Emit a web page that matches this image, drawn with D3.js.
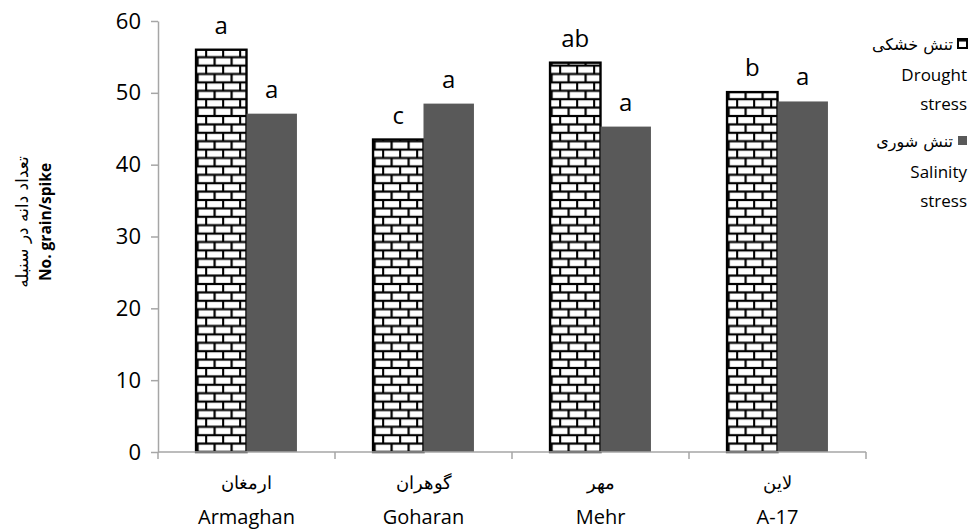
<!DOCTYPE html>
<html>
<head>
<meta charset="utf-8">
<script src="https://cdn.jsdelivr.net/npm/d3@7"></script>
<style>
  html, body { margin: 0; padding: 0; background: #fff; }
  svg { display: block; }
</style>
</head>
<body>
<svg id="chart" width="970" height="529"></svg>
<script>
// Grain number per spike for four wheat cultivars under two stresses
const categoriesEn = ["Armaghan", "Goharan", "Mehr", "A-17"];
const categoriesFa = ["ارمغان", "گوهران", "مهر", "لاین"];
const seriesKeys = ["drought", "salinity"];
const droughtValues = [56.0, 43.5, 54.2, 50.1];
const salinityValues = [47.1, 48.5, 45.3, 48.8];
const droughtLetters = ["a", "c", "ab", "b"];
const salinityLetters = ["a", "a", "a", "a"];
const yTicks = [0, 10, 20, 30, 40, 50, 60];
const legendFa = ["تنش خشکی", "تنش شوری"];
const legendEn = [["Drought", "stress"], ["Salinity", "stress"]];
const yTitleFa = "تعداد دانه در سنبله";
const yTitleEn = "No. grain/spike";

const svg = d3.select("#chart");
const latin = "'Open Sans', sans-serif";
const arabic = "'DejaVu Sans', sans-serif";
const axisColor = "#a6a6a6";
const grey = "#595959";

const plot = { left: 158, right: 866, top: 21, bottom: 452 };

const y = d3.scaleLinear().domain([0, 60]).range([plot.bottom, plot.top]);
const x0 = d3.scaleBand().domain(categoriesEn)
  .range([plot.left, plot.right]).paddingInner(0.43).paddingOuter(0.215);
const x1 = d3.scaleBand().domain(seriesKeys).range([0, x0.bandwidth()]);

// brick hatch used for the drought bars
const defs = svg.append("defs");
const tw = 17, th = 16.8;
const pat = defs.append("pattern").attr("id", "brick")
  .attr("patternUnits", "userSpaceOnUse")
  .attr("width", tw).attr("height", th)
  .attr("x", x0(categoriesEn[0])).attr("y", plot.bottom);
pat.append("rect").attr("width", tw).attr("height", th).attr("fill", "#fff");
const pg = pat.append("g").attr("stroke", "#000").attr("stroke-width", 2.2);
pg.append("line").attr("x1", 0).attr("x2", tw).attr("y1", 0).attr("y2", 0);
pg.append("line").attr("x1", 0).attr("x2", tw).attr("y1", th / 2).attr("y2", th / 2);
pg.append("line").attr("x1", 0).attr("x2", tw).attr("y1", th).attr("y2", th);
pg.append("line").attr("x1", 1).attr("x2", 1).attr("y1", 0).attr("y2", th / 2);
pg.append("line").attr("x1", tw / 2 + 1).attr("x2", tw / 2 + 1).attr("y1", th / 2).attr("y2", th);

const rows = categoriesEn.map((c, i) => ({
  cat: c,
  values: [
    { key: "drought", value: droughtValues[i], letter: droughtLetters[i] },
    { key: "salinity", value: salinityValues[i], letter: salinityLetters[i] }
  ]
}));

// axes
const yAxis = d3.axisLeft(y).tickValues(yTicks).tickSize(7).tickPadding(10).tickSizeOuter(0);
const gy = svg.append("g").attr("transform", `translate(${plot.left},0)`).call(yAxis);
gy.select(".domain").attr("stroke", axisColor).attr("stroke-width", 1.5);
gy.selectAll(".tick line").attr("stroke", axisColor).attr("stroke-width", 1.5);
gy.selectAll(".tick text").attr("font-family", latin).attr("font-size", 22).attr("fill", "#000");

// bars
const groups = svg.append("g").selectAll("g").data(rows).join("g")
  .attr("transform", d => `translate(${x0(d.cat)},0)`);

groups.selectAll("rect").data(d => d.values).join("rect")
  .attr("x", d => x1(d.key))
  .attr("y", d => y(d.value))
  .attr("width", x1.bandwidth())
  .attr("height", d => y(0) - y(d.value))
  .attr("fill", d => d.key === "drought" ? "url(#brick)" : grey)
  .attr("stroke", d => d.key === "drought" ? "#000" : "none")
  .attr("stroke-width", 2.4);

groups.selectAll("text.sig").data(d => d.values).join("text")
  .attr("class", "sig")
  .attr("x", d => x1(d.key) + x1.bandwidth() / 2)
  .attr("y", d => y(d.value) - 16)
  .attr("text-anchor", "middle")
  .attr("font-family", latin).attr("font-size", 24).attr("fill", "#000")
  .text(d => d.letter);

// x axis with boundary ticks
const gx = svg.append("g");
gx.append("line").attr("x1", plot.left).attr("x2", plot.right)
  .attr("y1", plot.bottom).attr("y2", plot.bottom)
  .attr("stroke", axisColor).attr("stroke-width", 1.5);
const bounds = categoriesEn.map(c => x0(c) - x0.step() * 0.43 / 2).concat([plot.right]);
bounds[0] = plot.left;
gx.selectAll("line.tk").data(bounds).join("line").attr("class", "tk")
  .attr("x1", d => d).attr("x2", d => d)
  .attr("y1", plot.bottom).attr("y2", plot.bottom + 7)
  .attr("stroke", axisColor).attr("stroke-width", 1.5);

categoriesEn.forEach((c, i) => {
  const cx = x0(c) + x0.bandwidth() / 2;
  gx.append("text").attr("x", cx).attr("y", 489)
    .attr("text-anchor", "middle").attr("font-family", arabic).attr("font-size", 18)
    .attr("font-weight", 300).attr("fill", "#000").text(categoriesFa[i]);
  gx.append("text").attr("x", cx).attr("y", 524)
    .attr("text-anchor", "middle").attr("font-family", latin).attr("font-size", 20)
    .attr("fill", "#000").text(c);
});

// y title (two lines)
const ty = svg.append("g").attr("transform", "translate(0,222)");
ty.append("text").attr("transform", "translate(28,0) rotate(-90)")
  .attr("text-anchor", "middle").attr("font-family", arabic).attr("font-size", 17)
  .attr("fill", "#000").text(yTitleFa);
ty.append("text").attr("transform", "translate(51,0) rotate(-90)")
  .attr("text-anchor", "middle").attr("font-family", latin).attr("font-size", 15.5)
  .attr("font-weight", "bold").attr("fill", "#000").text(yTitleEn);

// legend
const lg = svg.append("g");
const legendTop = [50, 147];
seriesKeys.forEach((k, i) => {
  const base = legendTop[i];
  lg.append("rect").attr("x", 958).attr("y", base - 11).attr("width", 9).attr("height", 9)
    .attr("fill", k === "drought" ? "url(#brick)" : grey)
    .attr("stroke", k === "drought" ? "#000" : "none").attr("stroke-width", 2);
  lg.append("text").attr("x", 953).attr("y", base)
    .attr("text-anchor", "end").attr("font-family", arabic).attr("font-size", 16)
    .attr("fill", "#000").text(legendFa[i]);
  legendEn[i].forEach((t, j) => {
    lg.append("text").attr("x", 967).attr("y", base + 31 + j * 29)
      .attr("text-anchor", "end").attr("font-family", latin).attr("font-size", 17)
      .attr("fill", "#000").text(t);
  });
});
</script>
</body>
</html>
